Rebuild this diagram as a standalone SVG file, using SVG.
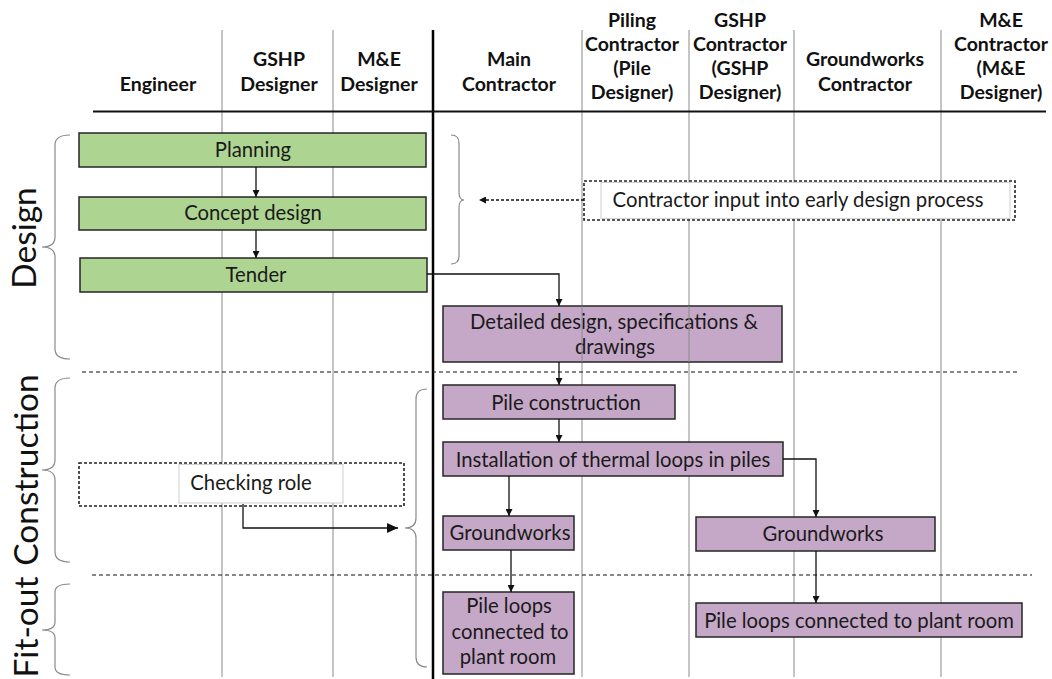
<svg xmlns="http://www.w3.org/2000/svg" width="1052" height="679" viewBox="0 0 1052 679">
<style>
.lane{stroke:#8a8a8a;stroke-width:1;fill:none}
.main{stroke:#000;stroke-width:2.5;fill:none}
.hdr{font-family:Lato,"Liberation Sans",sans-serif;font-weight:bold;font-size:19.5px;fill:#111;text-anchor:middle}
.txt{font-family:Lato,"Liberation Sans",sans-serif;font-size:20.3px;fill:#1a1a1a;text-anchor:middle}
.phase{font-family:Lato,"Liberation Sans",sans-serif;font-size:33.5px;fill:#111;text-anchor:middle}
.green{fill:#aed492;stroke:#262626;stroke-width:1.5}
.purple{fill:#c5a8c8;stroke:#262626;stroke-width:1.5}
.sep{stroke:#111;stroke-width:1.2;stroke-dasharray:4 3;fill:none}
.dbox{stroke:#222;stroke-width:1.6;stroke-dasharray:3 2;fill:none}
.ibox{stroke:#cfcfcf;stroke-width:1;fill:#fff}
.brace{stroke:#8a8a8a;stroke-width:1.2;fill:none}
.conn{stroke:#111;stroke-width:1.3;fill:none}
.dconn{stroke:#111;stroke-width:1.3;fill:none;stroke-dasharray:3 2}
</style>
<defs>
<marker id="arr" markerWidth="7" markerHeight="7" refX="7" refY="3.5" orient="auto" markerUnits="userSpaceOnUse">
<path d="M0,0 L7,3.5 L0,7 z" fill="#111"/>
</marker>
<marker id="arrb" markerWidth="11" markerHeight="10" refX="11" refY="5" orient="auto" markerUnits="userSpaceOnUse">
<path d="M0,0 L11,5 L0,10 z" fill="#111"/>
</marker>
</defs>
<rect width="1052" height="679" fill="#fff"/>
<g id="lanes">
<line class="lane" x1="222" y1="30" x2="222" y2="677"/>
<line class="lane" x1="333" y1="30" x2="333" y2="677"/>
<line class="lane" x1="582" y1="30" x2="582" y2="677"/>
<line class="lane" x1="689" y1="30" x2="689" y2="677"/>
<line class="lane" x1="794" y1="30" x2="794" y2="677"/>
<line class="lane" x1="941" y1="30" x2="941" y2="677"/>
<line class="main" x1="433" y1="30" x2="433" y2="679"/>
<line x1="93" y1="111.5" x2="1046" y2="111.5" stroke="#111" stroke-width="2"/>
</g>
<g id="headers">
<text class="hdr" x="158" y="91">Engineer</text>
<text class="hdr" x="279" y="66">GSHP</text>
<text class="hdr" x="279" y="91">Designer</text>
<text class="hdr" x="379" y="66">M&amp;E</text>
<text class="hdr" x="379" y="91">Designer</text>
<text class="hdr" x="509" y="66">Main</text>
<text class="hdr" x="509" y="91">Contractor</text>
<text class="hdr" x="632" y="27">Piling</text>
<text class="hdr" x="632" y="51">Contractor</text>
<text class="hdr" x="632" y="75">(Pile</text>
<text class="hdr" x="632" y="99">Designer)</text>
<text class="hdr" x="740" y="27">GSHP</text>
<text class="hdr" x="740" y="51">Contractor</text>
<text class="hdr" x="740" y="75">(GSHP</text>
<text class="hdr" x="740" y="99">Designer)</text>
<text class="hdr" x="865" y="66">Groundworks</text>
<text class="hdr" x="865" y="91">Contractor</text>
<text class="hdr" x="1001" y="27">M&amp;E</text>
<text class="hdr" x="1001" y="51">Contractor</text>
<text class="hdr" x="1001" y="75">(M&amp;E</text>
<text class="hdr" x="1001" y="99">Designer)</text>
</g>
<g id="phases">
<text class="phase" transform="translate(36,238) rotate(-90)">Design</text>
<text class="phase" transform="translate(38,470) rotate(-90)">Construction</text>
<text class="phase" transform="translate(38,627) rotate(-90)">Fit-out</text>
<path class="brace" d="M70 135 Q55 135 55 145 L55 237 Q55 247 42 247 Q55 247 55 257 L55 349 Q55 359 70 359"/>
<path class="brace" d="M70 378 Q55 378 55 388 L55 460 Q55 470 42 470 Q55 470 55 480 L55 552 Q55 562 70 562"/>
<path class="brace" d="M70 584 Q55 584 55 592 L55 622 Q55 630 42 630 Q55 630 55 638 L55 667 Q55 675 70 675"/>
</g>
<g id="separators">
<line class="sep" x1="82" y1="372" x2="1020" y2="372"/>
<line class="sep" x1="92" y1="575" x2="1032" y2="575"/>
</g>
<g id="planning">
<rect class="green" x="79" y="133" width="347" height="34"/>
<text class="txt" x="253" y="157">Planning</text>
</g>
<g id="concept-design">
<rect class="green" x="79" y="197" width="347" height="33"/>
<text class="txt" x="253" y="220">Concept design</text>
</g>
<g id="tender">
<rect class="green" x="80" y="258" width="347" height="34"/>
<text class="txt" x="256" y="282">Tender</text>
</g>
<g id="contractor-input">
<rect class="dbox" x="584" y="181" width="431" height="39"/>
<rect class="ibox" x="601" y="182.5" width="409" height="36"/>
<text class="txt" x="798" y="207">Contractor input into early design process</text>
<path class="brace" d="M451 135 Q459 135 459 143 L459 192 Q459 200 464 200 Q459 200 459 208 L459 256 Q459 264 451 264"/>
</g>
<g id="detailed-design">
<rect class="purple" x="443" y="306" width="339" height="56"/>
<text class="txt" x="614" y="329">Detailed design, specifications &amp;</text>
<text class="txt" x="615" y="354">drawings</text>
</g>
<g id="lane-overlay">
<line class="lane" x1="582" y1="306" x2="582" y2="362"/>
<line class="lane" x1="689" y1="306" x2="689" y2="362"/>
</g>
<g id="pile-construction">
<rect class="purple" x="443" y="385" width="232" height="34"/>
<text class="txt" x="566" y="410">Pile construction</text>
</g>
<g id="installation">
<rect class="purple" x="443" y="442" width="340" height="34"/>
<text class="txt" x="613" y="467">Installation of thermal loops in piles</text>
</g>
<g id="groundworks-main">
<rect class="purple" x="443" y="516" width="131" height="34"/>
<text class="txt" x="510" y="540">Groundworks</text>
</g>
<g id="groundworks-gw">
<rect class="purple" x="696" y="517" width="239" height="34"/>
<text class="txt" x="823" y="541">Groundworks</text>
</g>
<g id="pile-loops-main">
<rect class="purple" x="443" y="592" width="131" height="82"/>
<text class="txt" x="509" y="613">Pile loops</text>
<text class="txt" x="510" y="639">connected to</text>
<text class="txt" x="508" y="664">plant room</text>
</g>
<g id="pile-loops-gw">
<rect class="purple" x="696" y="603" width="326" height="34"/>
<text class="txt" x="859" y="628">Pile loops connected to plant room</text>
</g>
<g id="checking-role">
<rect class="dbox" x="79" y="463" width="325" height="43"/>
<rect class="ibox" x="179" y="464.5" width="164" height="38.5"/>
<text class="txt" x="251" y="490">Checking role</text>
<path class="brace" d="M427 389 Q416 389 416 399 L416 518 Q416 528 405 528 Q416 528 416 538 L416 657 Q416 667 427 667"/>
</g>
<g id="connectors">
<line class="conn" x1="256" y1="167" x2="256" y2="197" marker-end="url(#arr)"/>
<line class="conn" x1="256" y1="230" x2="256" y2="258" marker-end="url(#arr)"/>
<polyline class="conn" points="427,274 559,274 559,306" marker-end="url(#arr)"/>
<line class="dconn" x1="584" y1="200" x2="479" y2="200" marker-end="url(#arr)"/>
<line class="conn" x1="559" y1="362" x2="559" y2="385" marker-end="url(#arr)"/>
<line class="conn" x1="559" y1="419" x2="559" y2="442" marker-end="url(#arr)"/>
<line class="conn" x1="509" y1="476" x2="509" y2="516" marker-end="url(#arr)"/>
<polyline class="conn" points="783,459 816,459 816,517" marker-end="url(#arr)"/>
<line class="conn" x1="511" y1="550" x2="511" y2="592" marker-end="url(#arr)"/>
<line class="conn" x1="816" y1="551" x2="816" y2="603" marker-end="url(#arr)"/>
<polyline class="conn" points="243,504 243,528 398,528" marker-end="url(#arrb)"/>
</g>
</svg>
